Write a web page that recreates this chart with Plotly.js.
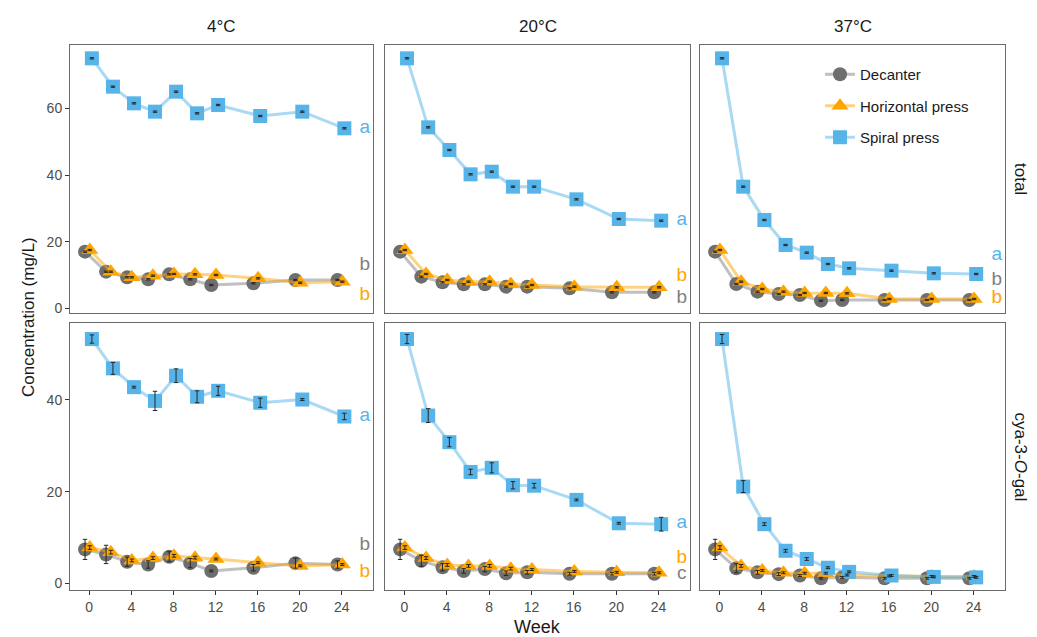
<!DOCTYPE html>
<html>
<head>
<meta charset="utf-8">
<script src="https://cdn.plot.ly/plotly-3.0.1.min.js"></script>
<style>html,body{margin:0;padding:0;background:#fff;}#chart{width:1037px;height:637px;}</style>
</head>
<body>
<div id="chart"></div>
<script>
// ---------- data ----------
const weeks = [0, 2, 4, 6, 8, 10, 12, 16, 20, 24];
const temperatures = ["4°C", "20°C", "37°C"];
const measures = ["total", "cya-3-<i>O</i>-gal"];
const methods = ["Decanter", "Horizontal press", "Spiral press"];

// total, 4°C
const dec_total_4 = [17.0, 11.0, 9.3, 8.7, 10.2, 8.7, 7.0, 7.5, 8.5, 8.5];
const hor_total_4 = [17.5, 11.0, 9.3, 9.8, 10.3, 10.2, 10.0, 9.0, 7.7, 8.0];
const spi_total_4 = [75.0, 66.5, 61.5, 59.0, 65.0, 58.5, 61.0, 57.7, 59.0, 54.0];
// total, 20°C
const dec_total_20 = [17.0, 9.5, 7.8, 7.2, 7.2, 6.5, 6.5, 6.0, 4.8, 4.8];
const hor_total_20 = [17.5, 10.3, 8.5, 8.0, 8.0, 7.3, 7.0, 6.5, 6.3, 6.3];
const spi_total_20 = [75.0, 54.3, 47.5, 40.2, 41.0, 36.5, 36.5, 32.7, 26.8, 26.3];
// total, 37°C
const dec_total_37 = [17.0, 7.3, 5.0, 4.3, 4.0, 2.3, 2.5, 2.5, 2.5, 2.5];
const hor_total_37 = [17.5, 8.0, 5.8, 5.0, 4.6, 4.6, 4.5, 2.8, 2.8, 2.8];
const spi_total_37 = [75.0, 36.5, 26.5, 19.0, 16.7, 13.3, 12.0, 11.3, 10.5, 10.3];

// cya-3-O-gal, 4°C
const dec_cya_4 = [7.4, 6.3, 4.7, 4.1, 5.8, 4.4, 2.7, 3.4, 4.4, 4.1];
const hor_cya_4 = [7.8, 6.8, 5.0, 5.5, 6.0, 5.6, 5.3, 4.5, 3.8, 4.1];
const spi_cya_4 = [53.3, 46.9, 42.8, 39.8, 45.3, 40.7, 42.0, 39.4, 40.1, 36.4];
// cya-3-O-gal, 20°C
const dec_cya_20 = [7.4, 4.9, 3.5, 2.7, 3.1, 2.2, 2.4, 2.1, 2.1, 2.1];
const hor_cya_20 = [7.8, 5.5, 4.0, 3.8, 3.8, 3.2, 3.0, 2.6, 2.4, 2.3];
const spi_cya_20 = [53.3, 36.6, 30.8, 24.3, 25.2, 21.4, 21.3, 18.2, 13.1, 12.9];
// cya-3-O-gal, 37°C
const dec_cya_37 = [7.4, 3.3, 2.4, 2.0, 1.7, 1.1, 1.3, 1.1, 1.1, 1.1];
const hor_cya_37 = [7.8, 3.8, 2.8, 2.3, 2.2, 2.2, 1.8, 1.6, 1.5, 1.5];
const spi_cya_37 = [53.3, 21.1, 12.9, 7.1, 5.3, 3.4, 2.5, 1.7, 1.4, 1.3];

// standard deviations
const err_total = [0.2, 0.2, 0.2, 0.2, 0.2, 0.2, 0.2, 0.2, 0.2, 0.2];
const err_dec_cya_4 = [2.2, 2.0, 1.0, 0.8, 1.1, 1.0, 0.2, 0.7, 1.1, 0.8];
const err_hor_cya_4 = [0.4, 0.4, 0.3, 0.3, 0.3, 0.3, 0.2, 0.2, 0.2, 0.2];
const err_spi_cya_4 = [0.9, 1.3, 0.2, 2.1, 1.5, 1.3, 1.0, 1.0, 0.2, 0.7];
const err_dec_cya_20 = [2.2, 1.2, 0.8, 0.5, 0.6, 0.5, 0.4, 0.3, 0.3, 0.3];
const err_hor_cya_20 = [0.4, 0.3, 0.3, 0.3, 0.3, 0.3, 0.2, 0.2, 0.2, 0.2];
const err_spi_cya_20 = [1.0, 1.5, 1.0, 0.6, 1.1, 0.8, 0.5, 0.2, 0.2, 1.5];
const err_dec_cya_37 = [2.2, 1.0, 0.4, 0.3, 0.2, 0.2, 0.2, 0.2, 0.2, 0.2];
const err_hor_cya_37 = [0.4, 0.3, 0.2, 0.2, 0.2, 0.2, 0.2, 0.2, 0.2, 0.2];
const err_spi_cya_37 = [1.0, 1.3, 0.3, 0.3, 0.3, 0.2, 0.2, 0.2, 0.2, 0.2];

// significance letters (Decanter, Horizontal, Spiral) and their label heights
const letters_total_4 = ["b", "b", "a"];   const letterY_total_4 = [13.0, 4.0, 54.0];
const letters_total_20 = ["b", "b", "a"];  const letterY_total_20 = [3.0, 9.5, 26.3];
const letters_total_37 = ["b", "b", "a"];  const letterY_total_37 = [8.5, 3.0, 16.0];
const letters_cya_4 = ["b", "b", "a"];     const letterY_cya_4 = [8.4, 2.5, 36.4];
const letters_cya_20 = ["c", "b", "a"];    const letterY_cya_20 = [2.0, 5.5, 13.2];
const letters_cya_37 = ["", "", ""];       const letterY_cya_37 = [0, 0, 0];

// ---------- assembly ----------
const panels = [
  [ {series:[dec_total_4, hor_total_4, spi_total_4], errs:[err_total, err_total, err_total], letters:letters_total_4, ly:letterY_total_4},
    {series:[dec_total_20, hor_total_20, spi_total_20], errs:[err_total, err_total, err_total], letters:letters_total_20, ly:letterY_total_20},
    {series:[dec_total_37, hor_total_37, spi_total_37], errs:[err_total, err_total, err_total], letters:letters_total_37, ly:letterY_total_37} ],
  [ {series:[dec_cya_4, hor_cya_4, spi_cya_4], errs:[err_dec_cya_4, err_hor_cya_4, err_spi_cya_4], letters:letters_cya_4, ly:letterY_cya_4},
    {series:[dec_cya_20, hor_cya_20, spi_cya_20], errs:[err_dec_cya_20, err_hor_cya_20, err_spi_cya_20], letters:letters_cya_20, ly:letterY_cya_20},
    {series:[dec_cya_37, hor_cya_37, spi_cya_37], errs:[err_dec_cya_37, err_hor_cya_37, err_spi_cya_37], letters:letters_cya_37, ly:letterY_cya_37} ]
];

const markerColors = ["#6e6e6e", "#FFA500", "#56B4E9"];
const lineColors = ["rgba(140,140,140,0.55)", "rgba(255,165,0,0.5)", "rgba(86,180,233,0.5)"];
const letterColors = ["#808080", "#FFA500", "#56B4E9"];
const symbols = ["circle", "triangle-up", "square"];
const sizes = [14, 15, 14];
const dodge = [-0.4, 0.05, 0.25];
const letterX = 26.2;

const W = 1037, H = 637;
const colPx = [[70, 373], [385, 690], [700, 1005]];
const rowPx = [[45, 313], [323, 590]];
const yRanges = [[-1.4, 79], [-1.46, 56.8]];
const yTicks = [[0, 20, 40, 60], [0, 20, 40]];
const xRange = [-1.83, 26.97];

const traces = [];
const errTraces = [];
const layout = {
  width: W, height: H,
  margin: {l: 0, r: 0, t: 0, b: 0},
  paper_bgcolor: "#ffffff", plot_bgcolor: "#ffffff",
  font: {family: "Liberation Sans, Arial, sans-serif", color: "#1a1a1a"},
  showlegend: true,
  legend: {x: 820 / W, y: 1 - 58 / H, xanchor: "left", yanchor: "top",
           font: {size: 15, color: "#1a1a1a"}, bgcolor: "rgba(0,0,0,0)",
           tracegroupgap: 9, itemwidth: 30},
  annotations: []
};

for (let r = 0; r < 2; r++) {
  for (let c = 0; c < 3; c++) {
    const idx = r * 3 + c + 1;
    const xa = "x" + (idx === 1 ? "" : idx), ya = "y" + (idx === 1 ? "" : idx);
    const p = panels[r][c];
    for (let m = 0; m < 3; m++) {
      const xs = weeks.map(w => w + dodge[m]);
      traces.push({
        type: "scatter", mode: "lines+markers", x: xs, y: p.series[m],
        xaxis: xa, yaxis: ya, name: methods[m], legendgroup: methods[m],
        showlegend: idx === 1,
        line: {color: lineColors[m], width: 3},
        marker: {symbol: symbols[m], size: sizes[m], color: markerColors[m], line: {width: 0}},
        hoverinfo: "x+y"
      });
      errTraces.push({
        type: "scatter", mode: "markers", x: xs, y: p.series[m],
        xaxis: xa, yaxis: ya, showlegend: false, hoverinfo: "skip",
        marker: {size: 1, opacity: 0},
        error_y: {type: "data", array: p.errs[m], visible: true, color: "#262626", thickness: 1, width: 2.2}
      });
      if (p.letters[m]) {
        errTraces.push({
          type: "scatter", mode: "text", x: [letterX], y: [p.ly[m]],
          text: [p.letters[m]], textposition: "middle center",
          textfont: {size: 19, color: letterColors[m], family: "Liberation Sans, Arial, sans-serif"},
          xaxis: xa, yaxis: ya, showlegend: false, hoverinfo: "skip", cliponaxis: false
        });
      }
    }
    const axBase = {showgrid: false, zeroline: false, showline: true, mirror: true,
                    linecolor: "#6b6b6b", linewidth: 1, fixedrange: true};
    layout["xaxis" + (idx === 1 ? "" : idx)] = Object.assign({}, axBase, {
      domain: [colPx[c][0] / W, colPx[c][1] / W], anchor: ya, range: xRange,
      tickvals: [0, 4, 8, 12, 16, 20, 24], showticklabels: r === 1,
      ticks: r === 1 ? "outside" : "", ticklen: 4, tickcolor: "#333333", tickwidth: 1,
      tickfont: {size: 14, color: "#4d4d4d"}
    });
    layout["yaxis" + (idx === 1 ? "" : idx)] = Object.assign({}, axBase, {
      domain: [1 - rowPx[r][1] / H, 1 - rowPx[r][0] / H], anchor: xa, range: yRanges[r],
      tickvals: yTicks[r], showticklabels: c === 0,
      ticks: c === 0 ? "outside" : "", ticklen: 4, tickcolor: "#333333", tickwidth: 1,
      tickfont: {size: 14, color: "#4d4d4d"}
    });
  }
}

// strip labels
for (let c = 0; c < 3; c++) {
  layout.annotations.push({text: temperatures[c], xref: "paper", yref: "paper",
    x: (colPx[c][0] + colPx[c][1]) / 2 / W, y: 1 - 27 / H, showarrow: false,
    xanchor: "center", yanchor: "middle", font: {size: 17, color: "#1a1a1a"}});
}
for (let r = 0; r < 2; r++) {
  layout.annotations.push({text: measures[r], xref: "paper", yref: "paper",
    x: 1020 / W, y: 1 - (rowPx[r][0] + rowPx[r][1]) / 2 / H, showarrow: false,
    textangle: 90, xanchor: "center", yanchor: "middle", font: {size: 17, color: "#1a1a1a"}});
}
layout.annotations.push({text: "Concentration (mg/L)", xref: "paper", yref: "paper",
  x: 28 / W, y: 1 - 317 / H, showarrow: false, textangle: -90,
  xanchor: "center", yanchor: "middle", font: {size: 17, color: "#1a1a1a"}});
layout.annotations.push({text: "Week", xref: "paper", yref: "paper",
  x: 537 / W, y: 1 - 627 / H, showarrow: false,
  xanchor: "center", yanchor: "middle", font: {size: 18, color: "#1a1a1a"}});

Plotly.newPlot("chart", traces.concat(errTraces), layout, {displayModeBar: false, staticPlot: true});
</script>
</body>
</html>
